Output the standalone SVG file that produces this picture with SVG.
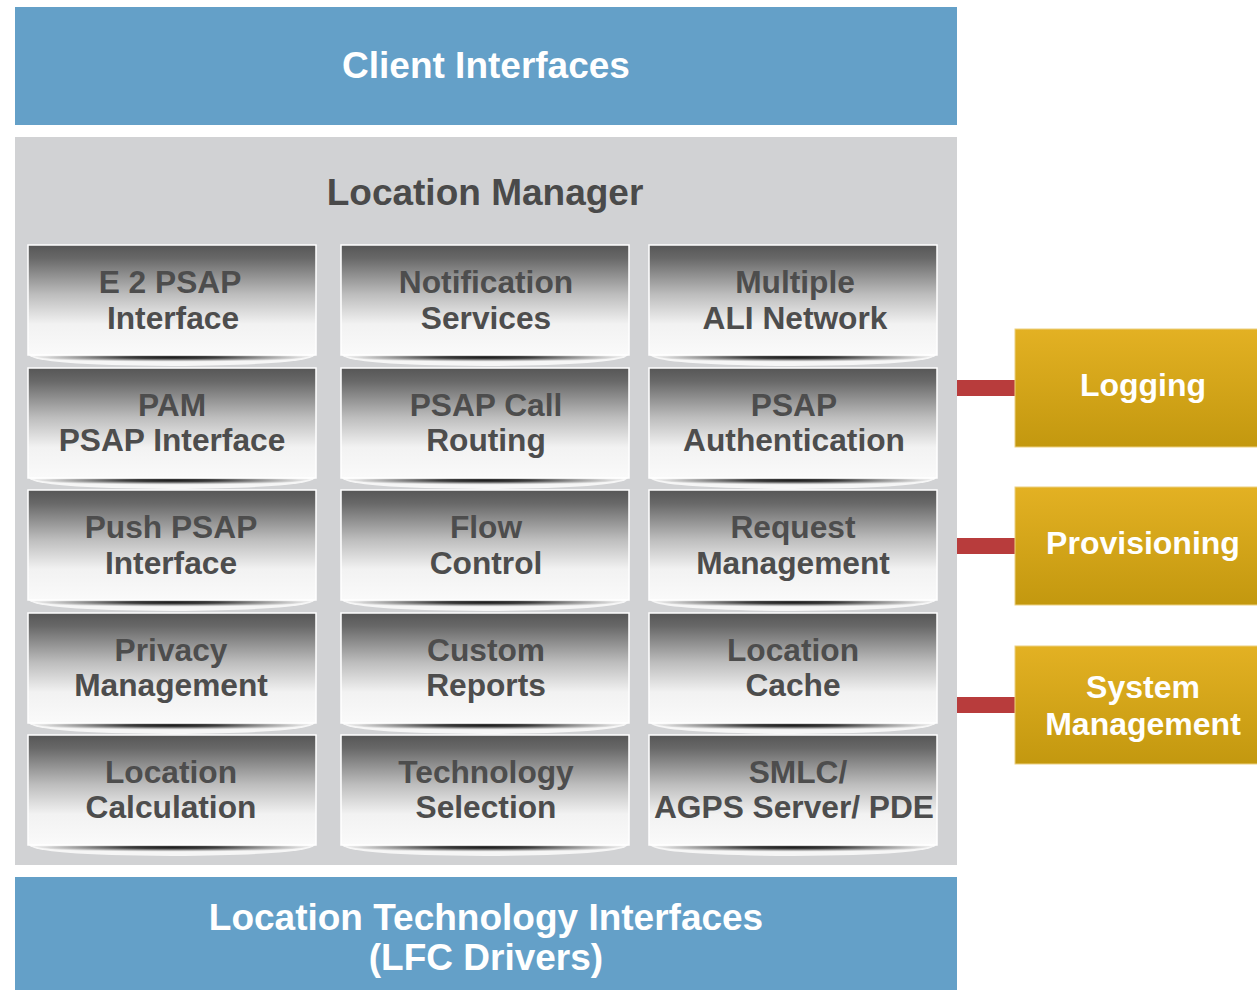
<svg xmlns="http://www.w3.org/2000/svg" width="1257" height="990" viewBox="0 0 1257 990">
<defs>
<linearGradient id="tileG" x1="0" y1="0" x2="0" y2="1">
<stop offset="0" stop-color="#565656"/>
<stop offset="0.12" stop-color="#686868"/>
<stop offset="0.45" stop-color="#bdbdbd"/>
<stop offset="0.72" stop-color="#f2f2f2"/>
<stop offset="1" stop-color="#fafafa"/>
</linearGradient>
<radialGradient id="shadowG" cx="0.5" cy="0.3" r="0.55">
<stop offset="0" stop-color="#1e1e1e"/>
<stop offset="0.3" stop-color="#3e3e3e"/>
<stop offset="0.6" stop-color="#9a9a9a"/>
<stop offset="0.85" stop-color="#e2e2e2"/>
<stop offset="1" stop-color="#f6f6f6"/>
</radialGradient>
<linearGradient id="goldG" x1="0" y1="0" x2="0" y2="1">
<stop offset="0" stop-color="#e3b123"/>
<stop offset="1" stop-color="#c3980f"/>
</linearGradient>
<g id="tile">
<path d="M1,110 H287 Q281,120 144,121 Q7,120 1,110 Z" fill="#f6f6f6"/>
<path d="M4,110 H284 Q277,117 144,118 Q11,117 4,110 Z" fill="url(#shadowG)"/>
<rect x="0" y="0" width="288" height="110" fill="url(#tileG)" stroke="#ffffff" stroke-width="1.5"/>
</g>
</defs>
<style>
.band{fill:#64a0c8}
.bandtxt{font-family:"Liberation Sans",Arial,sans-serif;font-weight:bold;font-size:37px;fill:#ffffff;text-anchor:middle}
.title{font-family:"Liberation Sans",Arial,sans-serif;font-weight:bold;font-size:37px;fill:#4a4a4a;text-anchor:middle}
.tt{font-family:"Liberation Sans",Arial,sans-serif;font-weight:bold;font-size:31.7px;fill:#4d4d4d;text-anchor:middle}
.gold{fill:url(#goldG);stroke:#ecd080;stroke-width:1}
.gt{font-family:"Liberation Sans",Arial,sans-serif;font-weight:bold;font-size:32px;fill:#ffffff;text-anchor:middle}
.conn{stroke:#b83c3c;stroke-width:16}
</style>
<rect width="1257" height="990" fill="#ffffff"/>

<g id="client-interfaces">
<rect class="band" x="15" y="7" width="942" height="118"/>
<text class="bandtxt" x="486" y="78">Client Interfaces</text>
</g>

<g id="location-manager">
<rect x="15" y="137" width="942" height="728" fill="#d1d2d4"/>
<text class="title" x="485" y="205">Location Manager</text>
</g>

<g id="lti">
<rect class="band" x="15" y="877" width="942" height="113"/>
<text class="bandtxt" x="486" y="930">Location Technology Interfaces</text>
<text class="bandtxt" x="486" y="970">(LFC Drivers)</text>
</g>

<g id="e2psap"><use href="#tile" x="28" y="245"/><text class="tt" x="170" y="293">E 2 PSAP</text><text class="tt" x="173" y="329">Interface</text></g>
<g id="notification"><use href="#tile" x="341" y="245"/><text class="tt" x="486" y="293">Notification</text><text class="tt" x="486" y="329">Services</text></g>
<g id="multiple-ali"><use href="#tile" x="649" y="245"/><text class="tt" x="795" y="293">Multiple</text><text class="tt" x="795" y="329">ALI Network</text></g>

<g id="pam"><use href="#tile" x="28" y="368"/><text class="tt" x="172" y="416">PAM</text><text class="tt" x="172" y="451">PSAP Interface</text></g>
<g id="psap-call-routing"><use href="#tile" x="341" y="368"/><text class="tt" x="486" y="416">PSAP Call</text><text class="tt" x="486" y="451">Routing</text></g>
<g id="psap-auth"><use href="#tile" x="649" y="368"/><text class="tt" x="794" y="416">PSAP</text><text class="tt" x="794" y="451">Authentication</text></g>

<g id="push-psap"><use href="#tile" x="28" y="490"/><text class="tt" x="171" y="538">Push PSAP</text><text class="tt" x="171" y="574">Interface</text></g>
<g id="flow-control"><use href="#tile" x="341" y="490"/><text class="tt" x="486" y="538">Flow</text><text class="tt" x="486" y="574">Control</text></g>
<g id="request-mgmt"><use href="#tile" x="649" y="490"/><text class="tt" x="793" y="538">Request</text><text class="tt" x="793" y="574">Management</text></g>

<g id="privacy"><use href="#tile" x="28" y="613"/><text class="tt" x="171" y="661">Privacy</text><text class="tt" x="171" y="696">Management</text></g>
<g id="custom-reports"><use href="#tile" x="341" y="613"/><text class="tt" x="486" y="661">Custom</text><text class="tt" x="486" y="696">Reports</text></g>
<g id="location-cache"><use href="#tile" x="649" y="613"/><text class="tt" x="793" y="661">Location</text><text class="tt" x="793" y="696">Cache</text></g>

<g id="location-calc"><use href="#tile" x="28" y="735"/><text class="tt" x="171" y="783">Location</text><text class="tt" x="171" y="818">Calculation</text></g>
<g id="tech-selection"><use href="#tile" x="341" y="735"/><text class="tt" x="486" y="783">Technology</text><text class="tt" x="486" y="818">Selection</text></g>
<g id="smlc"><use href="#tile" x="649" y="735"/><text class="tt" x="798" y="783">SMLC/</text><text class="tt" x="794" y="818">AGPS Server/ PDE</text></g>

<g id="connectors">
<line class="conn" x1="957" y1="388" x2="1015" y2="388"/>
<line class="conn" x1="957" y1="546" x2="1015" y2="546"/>
<line class="conn" x1="957" y1="705" x2="1015" y2="705"/>
</g>

<g id="logging"><rect class="gold" x="1015" y="329" width="245" height="118"/><text class="gt" x="1143" y="396">Logging</text></g>
<g id="provisioning"><rect class="gold" x="1015" y="487" width="245" height="118"/><text class="gt" x="1143" y="554">Provisioning</text></g>
<g id="system-mgmt"><rect class="gold" x="1015" y="646" width="245" height="118"/><text class="gt" x="1143" y="698">System</text><text class="gt" x="1143" y="735">Management</text></g>
</svg>
